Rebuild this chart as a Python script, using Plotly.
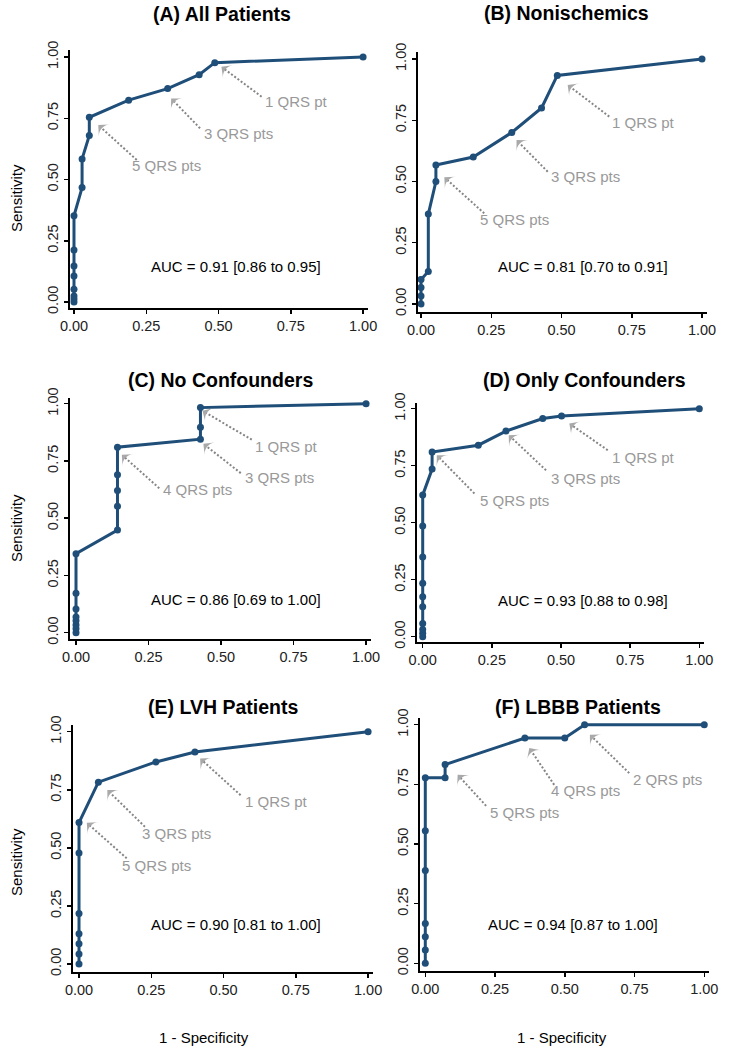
import plotly.graph_objects as go

W, H = 733, 1050

# ---------------- data ----------------
titles = ["(A) All Patients", "(B) Nonischemics", "(C) No Confounders",
          "(D) Only Confounders", "(E) LVH Patients", "(F) LBBB Patients"]

A_fpr = [0, 0, 0, 0, 0, 0, 0, 0, 0.028, 0.028, 0.053, 0.053, 0.189, 0.324, 0.433, 0.487, 1.0]
A_tpr = [0, 0.012, 0.024, 0.052, 0.106, 0.147, 0.212, 0.352, 0.467, 0.584, 0.680, 0.754, 0.824, 0.871, 0.928, 0.977, 1.0]

B_fpr = [0, 0, 0, 0, 0.026, 0.026, 0.053, 0.053, 0.186, 0.323, 0.429, 0.485, 1.0]
B_tpr = [0, 0.033, 0.067, 0.100, 0.133, 0.367, 0.500, 0.567, 0.600, 0.700, 0.800, 0.933, 1.0]

C_fpr = [0, 0, 0, 0, 0, 0, 0, 0, 0.143, 0.143, 0.143, 0.143, 0.143, 0.429, 0.429, 0.429, 1.0]
C_tpr = [0, 0.017, 0.034, 0.052, 0.069, 0.103, 0.172, 0.345, 0.448, 0.552, 0.621, 0.690, 0.810, 0.845, 0.897, 0.983, 1.0]

D_fpr = [0, 0, 0, 0, 0, 0, 0, 0, 0, 0, 0.034, 0.034, 0.201, 0.301, 0.434, 0.502, 1.0]
D_tpr = [0, 0.015, 0.032, 0.058, 0.131, 0.175, 0.234, 0.350, 0.486, 0.621, 0.735, 0.810, 0.840, 0.902, 0.957, 0.968, 1.0]

E_fpr = [0, 0, 0, 0, 0, 0, 0, 0.067, 0.266, 0.401, 1.0]
E_tpr = [0, 0.043, 0.087, 0.130, 0.217, 0.478, 0.609, 0.783, 0.870, 0.913, 1.0]

F_fpr = [0, 0, 0, 0, 0, 0, 0, 0.071, 0.071, 0.357, 0.500, 0.571, 1.0]
F_tpr = [0, 0.056, 0.111, 0.167, 0.389, 0.556, 0.778, 0.778, 0.833, 0.944, 0.944, 1.0, 1.0]

auc_texts = ["AUC = 0.91 [0.86 to 0.95]", "AUC = 0.81 [0.70 to 0.91]",
             "AUC = 0.86 [0.69 to 1.00]", "AUC = 0.93 [0.88 to 0.98]",
             "AUC = 0.90 [0.81 to 1.00]", "AUC = 0.94 [0.87 to 1.00]"]
auc_pos = [(0.560, 0.144), (0.575, 0.152), (0.551, 0.143),
           (0.578, 0.161), (0.542, 0.171), (0.528, 0.164)]

# point labels: (text, tip, tail, text position) in data units
A_labels = [("1 QRS pt", (0.510, 0.960), (0.649, 0.838), (0.768, 0.818)),
            ("3 QRS pts", (0.336, 0.831), (0.436, 0.709), (0.569, 0.689)),
            ("5 QRS pts", (0.084, 0.722), (0.217, 0.580), (0.321, 0.559))]
B_labels = [("1 QRS pt", (0.522, 0.894), (0.670, 0.765), (0.791, 0.740)),
            ("3 QRS pts", (0.340, 0.669), (0.451, 0.540), (0.585, 0.520)),
            ("5 QRS pts", (0.083, 0.517), (0.225, 0.370), (0.332, 0.343))]
C_labels = [("1 QRS pt", (0.436, 0.969), (0.606, 0.843), (0.724, 0.813)),
            ("3 QRS pts", (0.439, 0.825), (0.568, 0.697), (0.701, 0.678)),
            ("4 QRS pts", (0.158, 0.777), (0.287, 0.631), (0.420, 0.624))]
D_labels = [("1 QRS pt", (0.530, 0.935), (0.669, 0.818), (0.797, 0.788)),
            ("3 QRS pts", (0.311, 0.884), (0.446, 0.730), (0.588, 0.696)),
            ("5 QRS pts", (0.051, 0.796), (0.187, 0.628), (0.331, 0.599))]
E_labels = [("1 QRS pt", (0.419, 0.885), (0.559, 0.727), (0.682, 0.699)),
            ("3 QRS pts", (0.098, 0.749), (0.228, 0.591), (0.338, 0.560)),
            ("5 QRS pts", (0.027, 0.608), (0.165, 0.455), (0.269, 0.422))]
F_labels = [("2 QRS pts", (0.590, 0.958), (0.731, 0.797), (0.869, 0.769)),
            ("4 QRS pts", (0.373, 0.902), (0.462, 0.748), (0.573, 0.723)),
            ("5 QRS pts", (0.116, 0.790), (0.218, 0.660), (0.355, 0.632))]

tick_vals = [0, 0.25, 0.5, 0.75, 1.0]
tick_text = ["0.00", "0.25", "0.50", "0.75", "1.00"]

series = [(A_fpr, A_tpr), (B_fpr, B_tpr), (C_fpr, C_tpr),
          (D_fpr, D_tpr), (E_fpr, E_tpr), (F_fpr, F_tpr)]
labels = [A_labels, B_labels, C_labels, D_labels, E_labels, F_labels]

# ---------------- layout geometry (page pixels) ----------------
# (axis-left, right-end, x-range, axis-bottom, axis-top, y-range)
geom = [
    (70, 368, [-0.0138, 1.017], 308, 50, [-0.0245, 1.0286]),
    (418, 707, [-0.0107, 1.0178], 312, 52, [-0.0327, 1.0286]),
    (70, 371, [-0.0207, 1.017], 639, 398, [-0.0275, 1.025]),
    (417, 704, [-0.0206, 1.017], 642, 403, [-0.0232, 1.025]),
    (73, 373, [-0.0208, 1.017], 972, 725, [-0.0344, 1.029]),
    (420, 709, [-0.019, 1.017], 971, 718, [-0.032, 1.028]),
]
title_pos = [(222, 14), (566, 13), (220, 380), (584, 380), (223, 707), (578, 707)]

LINE = "#1f4e79"
GREY = "#858585"
FONT = "Liberation Sans, Arial, sans-serif"

fig = go.Figure()
annotations = []
layout = {}


def px(x):
    return x / W


def py(y):
    return 1 - y / H


for i in range(6):
    k = "" if i == 0 else str(i + 1)
    xa, ya = "x" + k, "y" + k
    xl, xr, xrng, yb, yt, yrng = geom[i]
    fx, fy = series[i]
    fig.add_trace(go.Scatter(x=fx, y=fy, xaxis=xa, yaxis=ya, mode="lines+markers",
                             line=dict(color=LINE, width=3),
                             marker=dict(color=LINE, size=7),
                             showlegend=False, hoverinfo="skip"))
    for (txt, tip, tail, tpos) in labels[i]:
        fig.add_trace(go.Scatter(x=[tail[0], tip[0]], y=[tail[1], tip[1]],
                                 xaxis=xa, yaxis=ya, mode="lines+markers",
                                 line=dict(color=GREY, width=2, dash="2px,2px"),
                                 marker=dict(symbol=["circle", "arrow-wide"], size=[0, 11.5],
                                             angleref="previous", color=GREY,
                                             line=dict(width=0)),
                                 showlegend=False, hoverinfo="skip"))
        annotations.append(dict(x=tpos[0], y=tpos[1], xref=xa, yref=ya, text=txt,
                                showarrow=False, font=dict(size=15, color="#999999", family=FONT)))
    annotations.append(dict(x=auc_pos[i][0], y=auc_pos[i][1], xref=xa, yref=ya,
                            text=auc_texts[i], showarrow=False,
                            font=dict(size=15, color="black", family=FONT)))
    tx, ty = title_pos[i]
    annotations.append(dict(x=px(tx), y=py(ty), xref="paper", yref="paper",
                            text="<b>" + titles[i] + "</b>", showarrow=False,
                            xanchor="center", yanchor="middle",
                            font=dict(size=19.5, color="black", family=FONT)))
    axis_common = dict(showline=True, linecolor="black", linewidth=2, mirror=False,
                       ticks="outside", ticklen=4, tickwidth=1.5, tickcolor="black",
                       showgrid=False, zeroline=False, automargin=False,
                       tickvals=tick_vals, ticktext=tick_text,
                       tickfont=dict(size=14.5, color="#222222", family=FONT))
    layout["xaxis" + k] = dict(axis_common, domain=[px(xl), px(xr)], range=xrng,
                               anchor=ya)
    layout["yaxis" + k] = dict(axis_common, domain=[py(yb), py(yt)], range=yrng,
                               anchor=xa, tickangle=-90)

# axis titles
for yc in (198, 528, 862):
    annotations.append(dict(x=px(16), y=py(yc), xref="paper", yref="paper",
                            text="Sensitivity", textangle=-90, showarrow=False,
                            xanchor="center", yanchor="middle",
                            font=dict(size=15, color="black", family=FONT)))
for xc in (204, 562):
    annotations.append(dict(x=px(xc), y=py(1037), xref="paper", yref="paper",
                            text="1 - Specificity", showarrow=False,
                            xanchor="center", yanchor="middle",
                            font=dict(size=15, color="black", family=FONT)))

fig.update_layout(width=W, height=H, margin=dict(l=0, r=0, t=0, b=0, autoexpand=False),
                  paper_bgcolor="white", plot_bgcolor="white", hovermode=False,
                  annotations=annotations, **layout)

fig.write_html("out.html", config={"displayModeBar": False, "staticPlot": True},
               post_script="document.body.style.margin='0px';document.body.style.overflow='hidden';")
